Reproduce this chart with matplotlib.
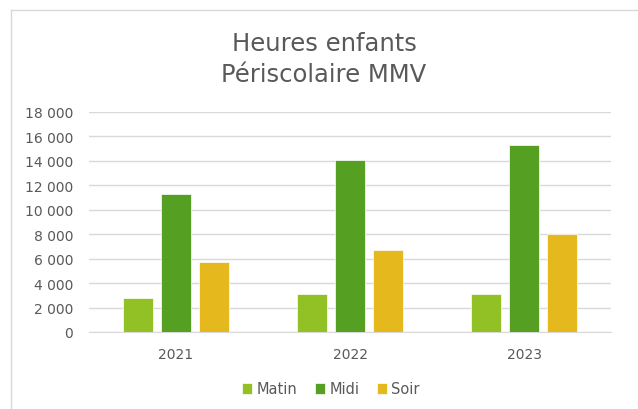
import numpy as np
import matplotlib.pyplot as plt
from matplotlib.ticker import FuncFormatter

years = ['2021', '2022', '2023']
series = ['Matin', 'Midi', 'Soir']
matin = [2800, 3130, 3130]
midi = [11300, 14070, 15320]
soir = [5700, 6720, 8030]
colors = ['#92C125', '#55A022', '#E5B91E']

plt.rcParams['font.family'] = ['DejaVu Sans']
txt = '#595959'

fig = plt.figure(figsize=(6.38, 4.10), dpi=100)
ax = fig.add_axes([89 / 638, 1 - 333 / 410, (611 - 89) / 638, (333 - 113) / 410])

x = np.arange(len(years))
width = 0.172
step = 0.221
for i, (name, vals) in enumerate(zip(series, [matin, midi, soir])):
    ax.bar(x + (i - 1) * step, vals, width, color=colors[i], label=name,
           edgecolor='white', linewidth=0.5, zorder=3)

ax.set_xlim(-0.5, 2.5)
ax.set_ylim(0, 18000)
ax.set_yticks(range(0, 18001, 2000))
ax.yaxis.set_major_formatter(FuncFormatter(lambda v, p: f'{int(v):,}'.replace(',', ' ')))
ax.set_xticks(x)
ax.set_xticklabels(years)
ax.grid(axis='y', color='#d9d9d9', linewidth=1, zorder=0)
for s in ax.spines.values():
    s.set_visible(False)
ax.spines['bottom'].set_visible(True)
ax.spines['bottom'].set_color('#d9d9d9')
ax.tick_params(length=0, labelsize=10, colors=txt)
ax.tick_params(axis='y', pad=11.5)
ax.tick_params(axis='x', pad=11)

fig.text(324 / 638, 1 - 51 / 410, 'Heures enfants', ha='center', va='baseline',
         fontsize=17.5, color=txt)
fig.text(324 / 638, 1 - 82 / 410, 'Périscolaire MMV', ha='center', va='baseline',
         fontsize=17.5, color=txt)

fig.legend(loc='center', bbox_to_anchor=(331 / 638, 1 - 390 / 410), ncol=3,
           frameon=False, fontsize=10.5, handlelength=0.7, handleheight=0.7,
           handletextpad=0.3, columnspacing=1.2, labelcolor=txt)

fig.add_artist(plt.Line2D([10.5 / 638, 10.5 / 638], [0, 1 - 11 / 410], color='#d9d9d9', lw=1))
fig.add_artist(plt.Line2D([10.5 / 638, 1], [1 - 11 / 410, 1 - 11 / 410], color='#d9d9d9', lw=1))

fig.savefig('out.png', dpi=100, facecolor='white')
